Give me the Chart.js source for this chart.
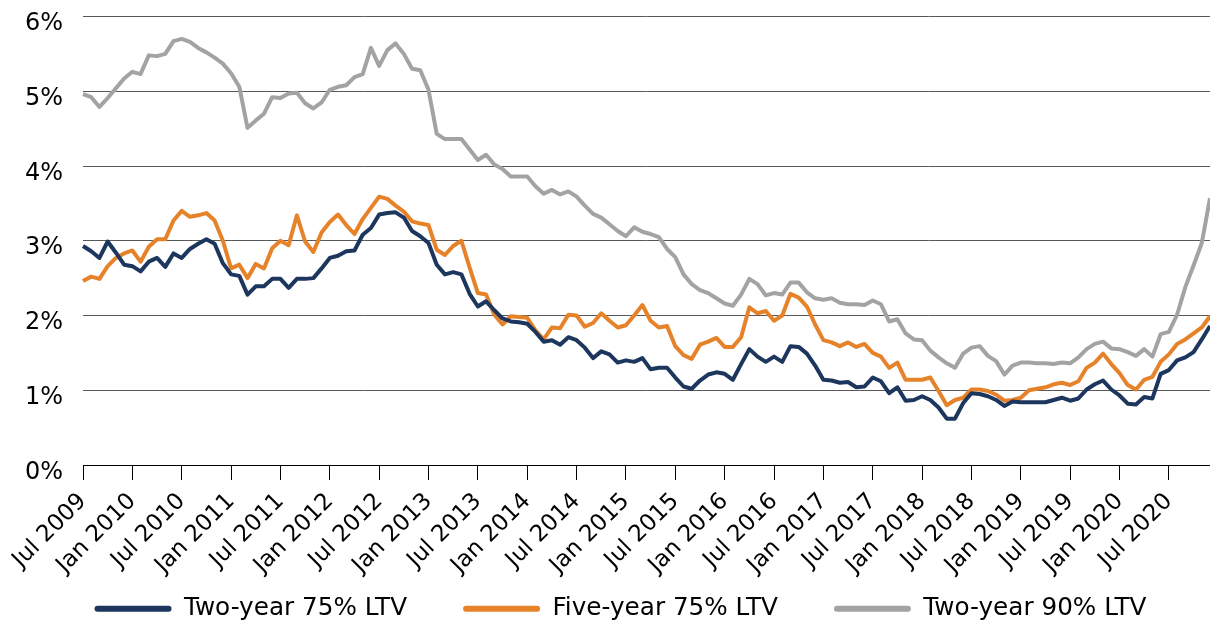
<!DOCTYPE html>
<html>
<head>
<meta charset="utf-8">
<script src="https://cdn.jsdelivr.net/npm/chart.js@4.4.1/dist/chart.umd.min.js"></script>
<style>
  html, body { margin: 0; padding: 0; background: #ffffff; }
  #wrap { width: 1210px; height: 626px; position: relative; }
</style>
</head>
<body>
<div id="wrap"><canvas id="c" width="1210" height="626"></canvas></div>
<script>
// Categories: monthly, Jul 2009 - Dec 2020
const months = [
  'Jul 2009','Aug 2009','Sep 2009','Oct 2009','Nov 2009','Dec 2009',
  'Jan 2010','Feb 2010','Mar 2010','Apr 2010','May 2010','Jun 2010','Jul 2010','Aug 2010','Sep 2010','Oct 2010','Nov 2010','Dec 2010',
  'Jan 2011','Feb 2011','Mar 2011','Apr 2011','May 2011','Jun 2011','Jul 2011','Aug 2011','Sep 2011','Oct 2011','Nov 2011','Dec 2011',
  'Jan 2012','Feb 2012','Mar 2012','Apr 2012','May 2012','Jun 2012','Jul 2012','Aug 2012','Sep 2012','Oct 2012','Nov 2012','Dec 2012',
  'Jan 2013','Feb 2013','Mar 2013','Apr 2013','May 2013','Jun 2013','Jul 2013','Aug 2013','Sep 2013','Oct 2013','Nov 2013','Dec 2013',
  'Jan 2014','Feb 2014','Mar 2014','Apr 2014','May 2014','Jun 2014','Jul 2014','Aug 2014','Sep 2014','Oct 2014','Nov 2014','Dec 2014',
  'Jan 2015','Feb 2015','Mar 2015','Apr 2015','May 2015','Jun 2015','Jul 2015','Aug 2015','Sep 2015','Oct 2015','Nov 2015','Dec 2015',
  'Jan 2016','Feb 2016','Mar 2016','Apr 2016','May 2016','Jun 2016','Jul 2016','Aug 2016','Sep 2016','Oct 2016','Nov 2016','Dec 2016',
  'Jan 2017','Feb 2017','Mar 2017','Apr 2017','May 2017','Jun 2017','Jul 2017','Aug 2017','Sep 2017','Oct 2017','Nov 2017','Dec 2017',
  'Jan 2018','Feb 2018','Mar 2018','Apr 2018','May 2018','Jun 2018','Jul 2018','Aug 2018','Sep 2018','Oct 2018','Nov 2018','Dec 2018',
  'Jan 2019','Feb 2019','Mar 2019','Apr 2019','May 2019','Jun 2019','Jul 2019','Aug 2019','Sep 2019','Oct 2019','Nov 2019','Dec 2019',
  'Jan 2020','Feb 2020','Mar 2020','Apr 2020','May 2020','Jun 2020','Jul 2020','Aug 2020','Sep 2020','Oct 2020','Nov 2020','Dec 2020'
];

// Labels shown on the x axis
const tickLabels = [
  'Jul 2009','Jan 2010','Jul 2010','Jan 2011','Jul 2011','Jan 2012','Jul 2012','Jan 2013',
  'Jul 2013','Jan 2014','Jul 2014','Jan 2015','Jul 2015','Jan 2016','Jul 2016','Jan 2017',
  'Jul 2017','Jan 2018','Jul 2018','Jan 2019','Jul 2019','Jan 2020','Jul 2020'
];

// Series values (%)
const twoYear75 = [
  2.93, 2.86, 2.77, 2.99, 2.84, 2.68, 2.66, 2.59, 2.72, 2.77,
  2.65, 2.83, 2.77, 2.89, 2.96, 3.02, 2.96, 2.70, 2.55, 2.53,
  2.28, 2.39, 2.39, 2.49, 2.49, 2.37, 2.49, 2.49, 2.50, 2.63,
  2.77, 2.80, 2.86, 2.87, 3.08, 3.17, 3.35, 3.37, 3.38, 3.31,
  3.13, 3.06, 2.97, 2.68, 2.55, 2.58, 2.55, 2.29, 2.12, 2.19,
  2.07, 1.96, 1.92, 1.91, 1.89, 1.78, 1.65, 1.67, 1.61, 1.71,
  1.67, 1.57, 1.43, 1.52, 1.48, 1.37, 1.40, 1.38, 1.43, 1.28,
  1.30, 1.30, 1.17, 1.05, 1.02, 1.13, 1.21, 1.24, 1.22, 1.14,
  1.35, 1.55, 1.45, 1.38, 1.45, 1.38, 1.59, 1.58, 1.49, 1.33,
  1.14, 1.13, 1.10, 1.11, 1.04, 1.05, 1.17, 1.12, 0.96, 1.04,
  0.86, 0.87, 0.92, 0.87, 0.77, 0.62, 0.62, 0.83, 0.96, 0.95,
  0.92, 0.87, 0.79, 0.85, 0.84, 0.84, 0.84, 0.84, 0.87, 0.90,
  0.86, 0.89, 1.01, 1.08, 1.13, 1.01, 0.93, 0.82, 0.81, 0.91,
  0.89, 1.22, 1.27, 1.40, 1.44, 1.51, 1.68, 1.86
];

const fiveYear75 = [
  2.46, 2.52, 2.49, 2.66, 2.77, 2.83, 2.87, 2.72, 2.92, 3.02,
  3.02, 3.27, 3.40, 3.32, 3.34, 3.37, 3.27, 3.00, 2.63, 2.68,
  2.50, 2.69, 2.63, 2.90, 3.00, 2.94, 3.34, 2.99, 2.85, 3.11,
  3.25, 3.35, 3.21, 3.09, 3.29, 3.44, 3.59, 3.56, 3.47, 3.39,
  3.26, 3.23, 3.21, 2.88, 2.81, 2.93, 3.00, 2.64, 2.30, 2.28,
  2.01, 1.88, 1.99, 1.98, 1.97, 1.80, 1.68, 1.84, 1.83, 2.01,
  2.00, 1.85, 1.90, 2.03, 1.93, 1.84, 1.87, 2.00, 2.14, 1.93,
  1.84, 1.86, 1.59, 1.47, 1.42, 1.61, 1.65, 1.70, 1.58, 1.58,
  1.71, 2.11, 2.03, 2.06, 1.93, 2.00, 2.29, 2.24, 2.12, 1.88,
  1.67, 1.64, 1.59, 1.64, 1.58, 1.62, 1.50, 1.45, 1.30, 1.37,
  1.14, 1.14, 1.14, 1.17, 0.99, 0.80, 0.87, 0.90, 1.01, 1.01,
  0.99, 0.94, 0.86, 0.87, 0.90, 1.00, 1.02, 1.04, 1.08, 1.10,
  1.07, 1.12, 1.30, 1.37, 1.49, 1.35, 1.23, 1.07, 1.01, 1.14,
  1.18, 1.38, 1.48, 1.62, 1.68, 1.76, 1.84, 1.99
];

const twoYear90 = [
  4.96, 4.92, 4.79, 4.91, 5.04, 5.17, 5.26, 5.23, 5.48, 5.47,
  5.50, 5.67, 5.70, 5.66, 5.58, 5.52, 5.45, 5.37, 5.24, 5.06,
  4.51, 4.61, 4.70, 4.92, 4.91, 4.97, 4.98, 4.84, 4.77, 4.85,
  5.02, 5.06, 5.08, 5.19, 5.23, 5.58, 5.34, 5.55, 5.64, 5.50,
  5.30, 5.28, 5.02, 4.43, 4.36, 4.36, 4.36, 4.22, 4.08, 4.15,
  4.02, 3.96, 3.86, 3.86, 3.86, 3.73, 3.63, 3.68, 3.62, 3.66,
  3.59, 3.47, 3.36, 3.31, 3.22, 3.13, 3.06, 3.18, 3.12, 3.09,
  3.05, 2.89, 2.78, 2.55, 2.42, 2.34, 2.30, 2.23, 2.16, 2.13,
  2.28, 2.49, 2.42, 2.27, 2.30, 2.28, 2.44, 2.44, 2.31, 2.23,
  2.21, 2.23, 2.17, 2.15, 2.15, 2.14, 2.20, 2.15, 1.92, 1.95,
  1.76, 1.68, 1.67, 1.53, 1.44, 1.36, 1.30, 1.49, 1.57, 1.59,
  1.46, 1.39, 1.21, 1.33, 1.37, 1.37, 1.36, 1.36, 1.35, 1.37,
  1.36, 1.44, 1.55, 1.62, 1.65, 1.56, 1.55, 1.51, 1.46, 1.55,
  1.45, 1.75, 1.78, 2.01, 2.38, 2.67, 2.97, 3.57
];

const seriesNames = ['Two-year 75% LTV', 'Five-year 75% LTV', 'Two-year 90% LTV'];
const seriesColors = ['#1c365d', '#e6832a', '#a3a3a3'];

Chart.defaults.font.family = "'DejaVu Sans', 'Liberation Sans', sans-serif";
Chart.defaults.color = '#000000';

const layoutTweak = {
  id: 'layoutTweak',
  afterLayout(chart) {
    const l = chart.legend;
    if (l) {
      l.left += 15.5; l.right += 15.5;
      l.top += 5; l.bottom += 5;
    }
    const x = chart.scales.x;
    if (x) { x.bottom = chart.height; }
  }
};

new Chart(document.getElementById('c'), {
  type: 'line',
  data: {
    labels: months,
    datasets: [
      { label: seriesNames[0], data: twoYear75, borderColor: seriesColors[0], backgroundColor: seriesColors[0] },
      { label: seriesNames[1], data: fiveYear75, borderColor: seriesColors[1], backgroundColor: seriesColors[1] },
      { label: seriesNames[2], data: twoYear90, borderColor: seriesColors[2], backgroundColor: seriesColors[2] }
    ]
  },
  options: {
    responsive: false,
    animation: false,
    devicePixelRatio: 1,
    layout: { padding: { top: 0, left: 0, right: 0, bottom: 0 } },
    elements: {
      point: { radius: 0, hoverRadius: 0 },
      line: { borderWidth: 4, tension: 0, borderJoinStyle: 'round', fill: false }
    },
    plugins: {
      tooltip: { enabled: false },
      legend: {
        position: 'bottom',
        align: 'center',
        labels: {
          boxWidth: 77,
          boxHeight: 6,
          padding: 56,
          color: '#000000',
          font: { size: 24.7 },
          useBorderRadius: true,
          borderRadius: 3,
          generateLabels: (chart) => Chart.defaults.plugins.legend.labels.generateLabels(chart)
            .map(it => Object.assign(it, { fillStyle: it.strokeStyle, lineWidth: 0 }))
        }
      }
    },
    scales: {
      x: {
        type: 'category',
        offset: false,
        grid: {
          display: true,
          drawOnChartArea: false,
          drawTicks: true,
          tickLength: 15,
          tickWidth: 1,
          tickColor: '#000000'
        },
        border: { display: true, color: '#000000', width: 1 },
        ticks: {
          autoSkip: false,
          maxRotation: 45,
          minRotation: 45,
          padding: 8,
          color: '#000000',
          font: { size: 23 },
          callback: (v, i) => (tickLabels.includes(months[i]) ? months[i] : null)
        },
        afterFit: (s) => { s.height = 70.3; }
      },
      y: {
        min: 0,
        max: 6,
        ticks: {
          stepSize: 1,
          padding: 20,
          labelOffset: 7.5,
          color: '#000000',
          font: { size: 24 },
          callback: (v) => v + '%'
        },
        grid: { color: '#595959', lineWidth: 1, drawTicks: false },
        border: { display: false },
        afterFit: (s) => { s.width = 83; s.paddingTop = 16.5; s.paddingBottom = 0; }
      }
    }
  },
  plugins: [layoutTweak]
});
</script>
</body>
</html>
